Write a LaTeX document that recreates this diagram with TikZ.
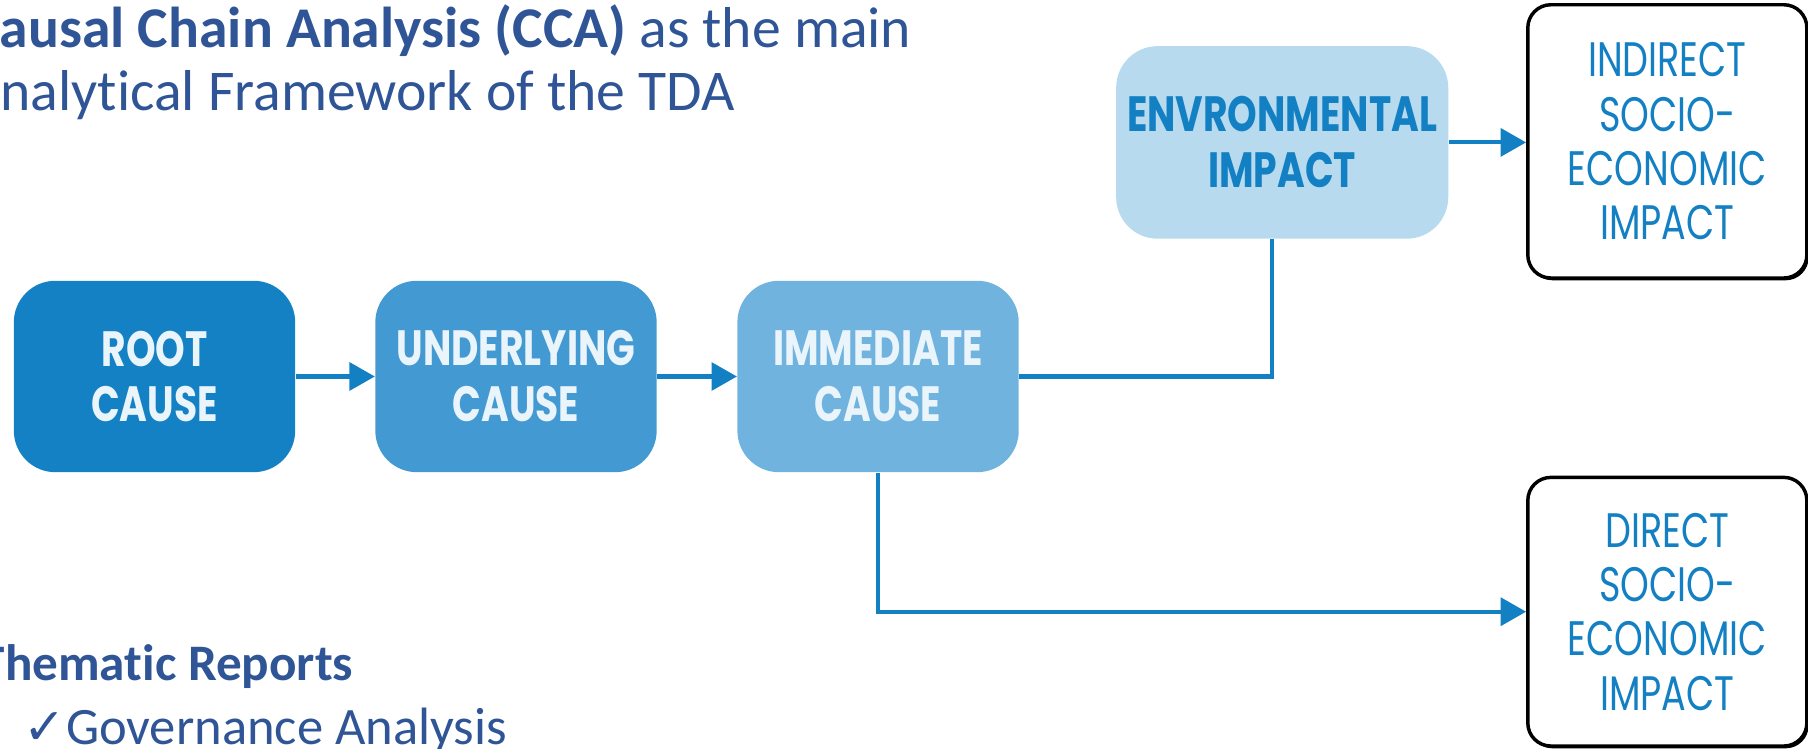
\documentclass[tikz,border=0pt]{standalone}
\usepackage{fontspec}
\setmainfont[Ligatures=NoCommon]{Carlito}
\newfontfamily\boxfont[FakeStretch=0.76]{Poppins}
\newfontfamily\impfont[FakeStretch=0.755]{Poppins}
\newfontfamily\checkfont{DejaVu Sans}
\usetikzlibrary{arrows.meta,shadows}
\definecolor{titleblue}{HTML}{2F5597}
\definecolor{rootc}{HTML}{1381C4}
\definecolor{undc}{HTML}{4399D1}
\definecolor{immc}{HTML}{6FB3DE}
\definecolor{envc}{HTML}{B8DAEE}
\definecolor{linec}{HTML}{1380C3}
\definecolor{ltext}{HTML}{EAF4FB}
\tikzset{
  chainbox/.style={rounded corners=18pt, minimum width=122pt, minimum height=83pt,
    inner sep=0pt, align=center, text=ltext,
    font=\boxfont\bfseries\fontsize{21.5pt}{24.25pt}\selectfont,
    execute at begin node={\rule{0pt}{20.5pt}}},
  impactbox/.style={draw=black, line width=1.5pt, fill=white, rounded corners=10pt,
    minimum width=121pt, inner sep=0pt, align=center, text=linec,
    font=\impfont\fontsize{21pt}{23.6pt}\selectfont,
    execute at begin node={\rule{0pt}{18pt}},
    drop shadow={shadow xshift=0.8pt, shadow yshift=-1pt, opacity=1, fill=black}},
  flow/.style={draw=linec, line width=1.8pt},
  flowarrow/.style={flow, -{Triangle[length=11pt,width=12pt]}},
  titletext/.style={anchor=base west, inner sep=0pt, text=titleblue,
    font=\fontsize{25pt}{29pt}\selectfont},
}
\begin{document}
\begin{tikzpicture}[x=0.5pt,y=-0.5pt]
\useasboundingbox (0,0) rectangle (1568,649.5);
\clip (0,0) rectangle (1568,649.5);
% title
\node[titletext] (t1) at (-27,41) {\textbf{Causal Chain Analysis (CCA)} as the main};
\node[titletext] (t2) at (-29,96) {Analytical Framework of the TDA};
\node[titletext, font=\bfseries\fontsize{22.2pt}{26pt}\selectfont] (t3) at (-18,590) {Thematic Reports};
\node[titletext, font=\fontsize{22.8pt}{27pt}\selectfont] (t4) at (20,646) {{\checkfont\bfseries\fontsize{22pt}{25pt}\selectfont ✓}Governance Analysis};
% chain boxes
\node[chainbox, fill=rootc] (root) at (134,326.5) {ROOT\\CAUSE};
\node[chainbox, fill=undc] (und) at (447.5,326.5) {UNDERLYING\\CAUSE};
\node[chainbox, fill=immc] (imm) at (761.5,326.5) {IMMEDIATE\\CAUSE};
\node[chainbox, fill=envc, text=linec, minimum width=144pt, minimum height=83.5pt] (env) at (1112,123.5) {ENVRONMENTAL\\IMPACT};
% impact boxes
\node[impactbox, minimum height=118.5pt] (ind) at (1446,122.6) {INDIRECT\\SOCIO-\\ECONOMIC\\IMPACT};
\node[impactbox, minimum height=116.5pt] (dir) at (1446,530.5) {DIRECT\\SOCIO-\\ECONOMIC\\IMPACT};
% connectors
\draw[flowarrow] (root.east) -- (und.west);
\draw[flowarrow] (und.east) -- (imm.west);
\draw[flow] (imm.east) -| ([xshift=-4.5pt]env.south);
\draw[flowarrow] (env.east) -- (env.east -| ind.west);
\draw[flowarrow] (imm.south) |- (dir.west);
\end{tikzpicture}
\end{document}
